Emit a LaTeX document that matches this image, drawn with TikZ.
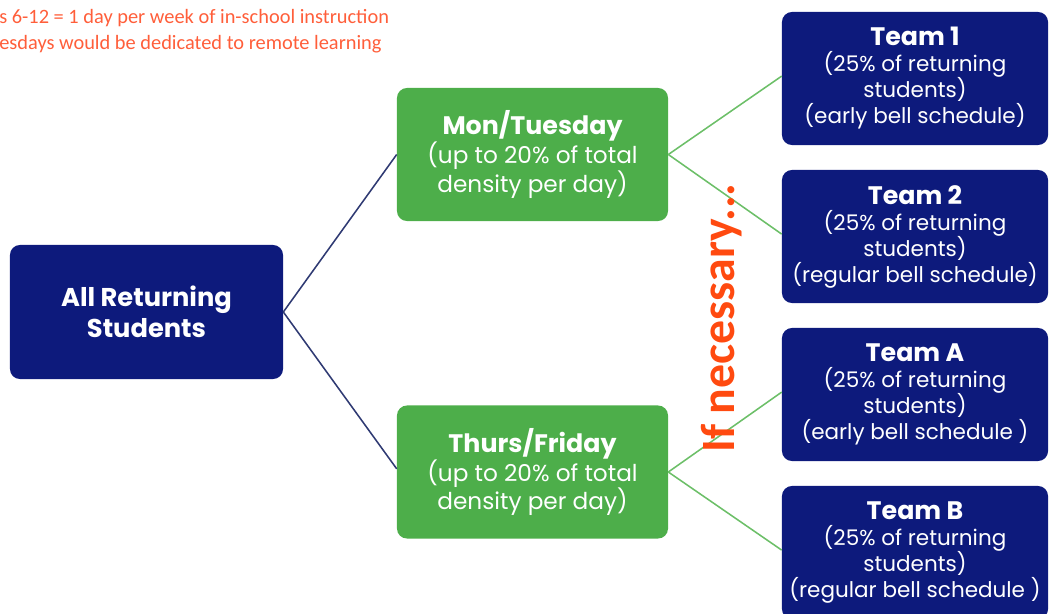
\documentclass[tikz,border=0pt]{standalone}
\usepackage{fontspec}
\setmainfont{Poppins}
\newfontfamily\calib{Carlito}
\definecolor{navy}{HTML}{0D1A7C}
\definecolor{grn}{HTML}{4DAE4A}
\definecolor{grnline}{HTML}{6CBF68}
\definecolor{slate}{HTML}{2F3A73}
\definecolor{hdr}{HTML}{FF5E3A}
\definecolor{ifnec}{HTML}{FF4A10}
\tikzset{
  navybox/.style={fill=navy, rounded corners=0.25cm, text=white, align=center, inner sep=0pt},
  grnbox/.style={fill=grn, rounded corners=0.25cm, text=white, align=center, inner sep=0pt, minimum width=6.775cm, minimum height=3.325cm, font=\fontsize{16.5}{20.5}\selectfont},
  teambox/.style={navybox, minimum width=6.65cm, minimum height=3.325cm, font=\fontsize{15.3}{18.5}\selectfont},
  navyline/.style={draw=slate, line width=1.1pt},
  grnlinest/.style={draw=grnline, line width=1.1pt},
  hdrtext/.style={text=hdr, anchor=west, inner sep=0pt, font=\calib\fontsize{14.5}{15}\selectfont}
}
\newcommand{\teamttl}[1]{{\bfseries\fontsize{18}{18.5}\selectfont #1}}
\newcommand{\dayttl}[1]{{\bfseries\fontsize{18}{20.5}\selectfont #1}}
\begin{document}
\begin{tikzpicture}[x=0.025cm,y=-0.025cm]
\useasboundingbox (0,0) rectangle (1050,613);
\begin{scope}
\clip (0,0) rectangle (1050,613);
\node[hdrtext] (h1) at (-1,18) {s 6-12 = 1 day per week of in-school instruction};
\node[hdrtext] (h2) at (-1,44) {esdays would be dedicated to remote learning};

\node[navybox, minimum width=6.825cm, minimum height=3.35cm, font=\fontsize{18.3}{22}\selectfont\bfseries] (root) at (146.5,312) {All Returning\\Students};

\node[grnbox] (mon) at (532.5,154.5) {\dayttl{Mon/Tuesday}\\(up to 20\% of total\\density per day)};
\node[grnbox] (thu) at (532.5,472) {\dayttl{Thurs/Friday}\\(up to 20\% of total\\density per day)};

\node[teambox] (t1) at (915,78.5) {\teamttl{Team 1}\\(25\% of returning\\students)\\(early bell schedule)};
\node[teambox] (t2) at (915,236.5) {\teamttl{Team 2}\\(25\% of returning\\students)\\(regular bell schedule)};
\node[teambox] (ta) at (915,394.5) {\teamttl{Team A}\\(25\% of returning\\students)\\(early bell schedule )};
\node[teambox] (tb) at (915,552.5) {\teamttl{Team B}\\(25\% of returning\\students)\\(regular bell schedule )};

\draw[navyline] (root.east) -- ([yshift=0.0cm]mon.west);
\draw[navyline] (root.east) -- ([yshift=0.08cm]thu.west);
\draw[grnlinest] (mon.east) -- ([yshift=0.06cm]t1.west);
\draw[grnlinest] (mon.east) -- ([yshift=0.06cm]t2.west);
\draw[grnlinest] (thu.east) -- ([yshift=0.06cm]ta.west);
\draw[grnlinest] (thu.east) -- ([yshift=0.06cm]tb.west);

\node[rotate=90, text=ifnec, inner sep=0pt, font=\calib\bfseries\fontsize{34}{36}\selectfont] (ifn) at (722,318) {If necessary...};
\end{scope}
\end{tikzpicture}
\end{document}
